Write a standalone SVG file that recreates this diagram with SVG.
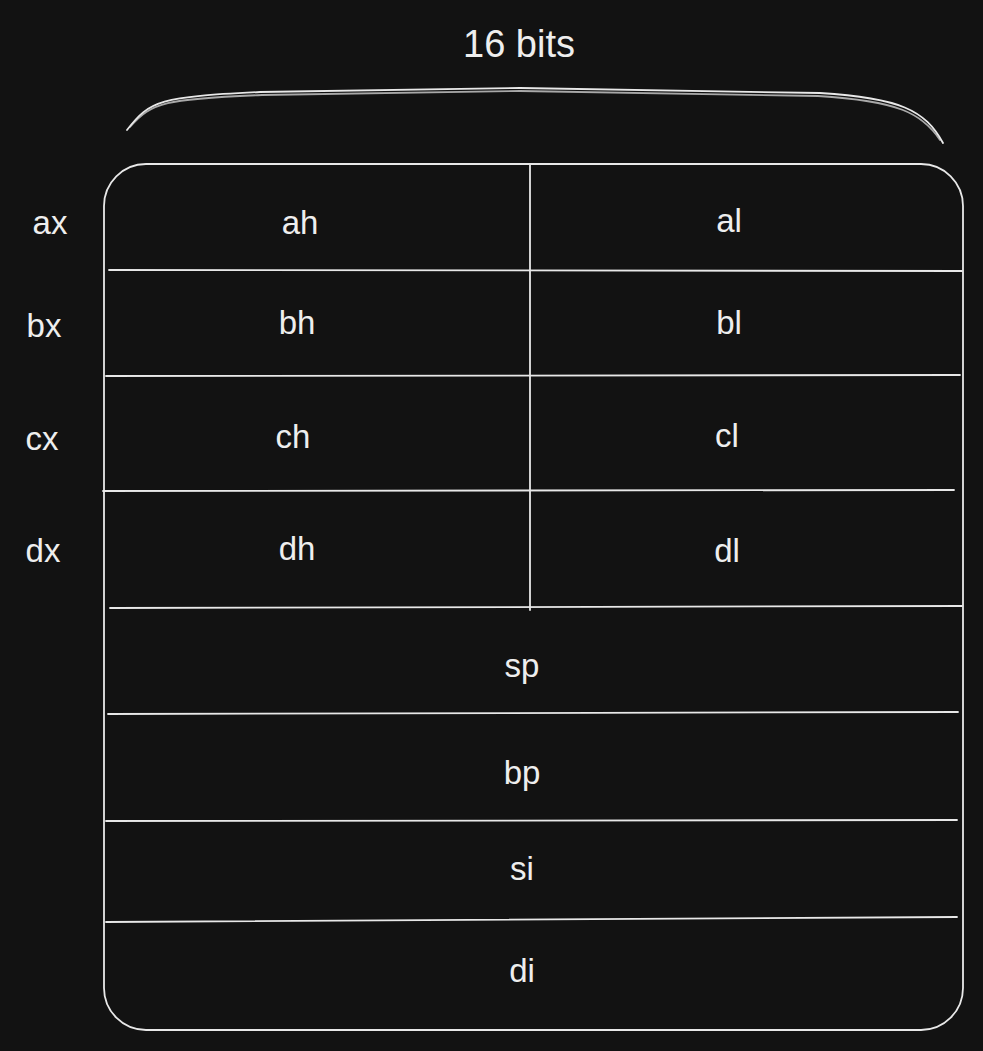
<svg xmlns="http://www.w3.org/2000/svg" width="983" height="1051" viewBox="0 0 983 1051">
<style>
.ln{stroke:#e8e8e8;stroke-width:1.8;fill:none;stroke-linecap:round}
.t{font-family:"Liberation Sans",Arial,sans-serif;font-size:33px;fill:#eeeeee;text-anchor:middle;dominant-baseline:central}
.title{font-size:38px}
</style>
<rect x="0" y="0" width="983" height="1051" fill="#121212"/>
<g id="brace">
<path class="ln" d="M127 130 C150 100 160 97 260 92 L520 88 L820 93 C900 98 925 110 943 143"/>
<path class="ln" d="M130 127 C152 102 165 99 262 95 L520 91 L818 96 C898 101 922 113 940 140" opacity="0.7"/>
<text class="t title" x="519" y="44">16 bits</text>
</g>
<g id="registers">
<rect class="ln" x="104" y="164" width="859" height="866" rx="42" ry="42"/>
</g>
<g id="connectors">
<line class="ln" x1="530" y1="165" x2="530" y2="610"/>
<line class="ln" x1="109" y1="270" x2="962" y2="271"/>
<line class="ln" x1="106" y1="376" x2="960" y2="375"/>
<line class="ln" x1="103" y1="491" x2="954" y2="490"/>
<line class="ln" x1="110" y1="608" x2="962" y2="606"/>
<line class="ln" x1="108" y1="714" x2="958" y2="712"/>
<line class="ln" x1="106" y1="821" x2="957" y2="820"/>
<line class="ln" x1="106" y1="922" x2="957" y2="917"/>
</g>
<g id="row-ax"><text class="t" x="50" y="222">ax</text><text class="t" x="300" y="222">ah</text><text class="t" x="729" y="220">al</text></g>
<g id="row-bx"><text class="t" x="44" y="325">bx</text><text class="t" x="297" y="322">bh</text><text class="t" x="729" y="322">bl</text></g>
<g id="row-cx"><text class="t" x="42" y="438">cx</text><text class="t" x="293" y="436">ch</text><text class="t" x="727" y="435">cl</text></g>
<g id="row-dx"><text class="t" x="43" y="550">dx</text><text class="t" x="297" y="548">dh</text><text class="t" x="727" y="550">dl</text></g>
<g id="row-sp"><text class="t" x="522" y="665">sp</text></g>
<g id="row-bp"><text class="t" x="522" y="772">bp</text></g>
<g id="row-si"><text class="t" x="522" y="868">si</text></g>
<g id="row-di"><text class="t" x="522" y="970">di</text></g>
</svg>
